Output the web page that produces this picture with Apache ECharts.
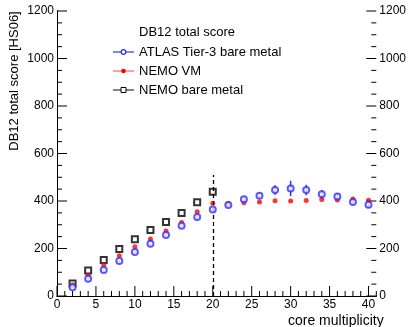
<!DOCTYPE html>
<html>
<head>
<meta charset="utf-8">
<script src="https://cdn.jsdelivr.net/npm/echarts@6/dist/echarts.min.js"></script>
<style>
  html, body { margin: 0; padding: 0; background: #fff; }
  #chart { width: 409px; height: 327px; }
</style>
</head>
<body>
<div id="chart"></div>
<script>
// Core counts on the horizontal axis
const cores = [2, 4, 6, 8, 10, 12, 14, 16, 18, 20, 22, 24, 26, 28, 30, 32, 34, 36, 38, 40];

// DB12 scores (HS06) per configuration
const atlasScore = [37, 73, 109, 147, 185, 220, 257, 296, 333, 364, 383, 407, 422, 446, 453, 446, 428, 419, 396, 384];
const atlasError = [3, 3, 4, 4, 4, 5, 5, 6, 6, 7, 6, 10, 13, 20, 32, 22, 18, 14, 12, 14];
const nemoVmScore = [46, 87, 131, 170, 207, 240, 274, 310, 355, 391, 390, 393, 396, 401, 400, 402, 406, 404, 408, 403];
const nemoBareScore = [53, 107, 152, 198, 239, 278, 312, 349, 395, 439, null, null, null, null, null, null, null, null, null, null];

const seriesNames = ['ATLAS Tier-3 bare metal', 'NEMO VM', 'NEMO bare metal'];
const legendTitle = 'DB12 total score';
const xTitle = 'core multiplicity';
const yTitle = 'DB12 total score [HS06]';

// Axis ranges and tick spacing
const X_MAX = 41, X_MAJOR = 5, X_MINOR = 1;
const Y_MAX = 1200, Y_MAJOR = 200, Y_MINOR = 50;

const BLUE = '#2f2fff';
const RED = '#ff0000';
const BLACK = '#000000';
const FONT = 'Liberation Sans, Arial, sans-serif';

const pairs = (ys) => cores.map((c, i) => [c, ys[i]]);

// Inward-pointing frame ticks: [x, y, side, length]; side 0 = bottom, 1 = left, 2 = right
const frameTicks = [];
for (let v = 0; v <= X_MAX; v += X_MINOR) {
  frameTicks.push([v, 0, 0, v % X_MAJOR === 0 ? 10 : 5]);
}
for (let v = 0; v <= Y_MAX; v += Y_MINOR) {
  const len = v % Y_MAJOR === 0 ? 10 : 5;
  frameTicks.push([0, v, 1, len]);
  frameTicks.push([X_MAX, v, 2, len]);
}

const chart = echarts.init(document.getElementById('chart'));

const axisLine = () => ({ show: true, lineStyle: { color: '#000', width: 1 } });
const tickLabel = () => ({ color: '#000', fontSize: 12, fontFamily: FONT, margin: 3, formatter: v => String(v) });

const option = {
  animation: false,
  grid: { left: 57, right: 31, top: 11, bottom: 31 },
  xAxis: [
    {
      type: 'value', min: 0, max: X_MAX, interval: X_MAJOR, position: 'bottom',
      axisLine: axisLine(), splitLine: { show: false },
      axisTick: { show: false }, minorTick: { show: false },
      axisLabel: Object.assign(tickLabel(), { showMaxLabel: false }),
    },
    {
      type: 'value', min: 0, max: X_MAX, position: 'top',
      axisLine: axisLine(), splitLine: { show: false },
      axisTick: { show: false }, axisLabel: { show: false },
    },
  ],
  yAxis: [
    {
      type: 'value', min: 0, max: Y_MAX, interval: Y_MAJOR, position: 'left',
      axisLine: axisLine(), splitLine: { show: false },
      axisTick: { show: false }, minorTick: { show: false },
      axisLabel: tickLabel(),
    },
    {
      type: 'value', min: 0, max: Y_MAX, interval: Y_MAJOR, position: 'right',
      axisLine: axisLine(), splitLine: { show: false },
      axisTick: { show: false }, minorTick: { show: false },
      axisLabel: tickLabel(),
    },
  ],
  series: [
    {
      // frame ticks, pointing into the plot
      type: 'custom',
      name: 'frame-ticks',
      silent: true,
      clip: false,
      data: frameTicks,
      renderItem: (params, api) => {
        const p = api.coord([api.value(0), api.value(1)]);
        const side = api.value(2);
        const len = api.value(3);
        let x2 = p[0], y2 = p[1];
        if (side === 0) y2 -= len;
        else if (side === 1) x2 += len;
        else x2 -= len;
        return {
          type: 'line',
          shape: { x1: p[0], y1: p[1], x2: x2, y2: y2 },
          style: { stroke: '#000', lineWidth: 1 },
        };
      },
      z: 1,
    },
    {
      // vertical error bars on the ATLAS points
      type: 'custom',
      name: 'atlas-err',
      silent: true,
      data: cores.map((c, i) => [c, atlasScore[i] - atlasError[i], atlasScore[i] + atlasError[i]]),
      renderItem: (params, api) => {
        const lo = api.coord([api.value(0), api.value(1)]);
        const hi = api.coord([api.value(0), api.value(2)]);
        return {
          type: 'line',
          shape: { x1: lo[0], y1: lo[1], x2: hi[0], y2: hi[1] },
          style: { stroke: BLUE, lineWidth: 1.5 },
        };
      },
      z: 2,
    },
    {
      name: seriesNames[2], type: 'scatter', data: pairs(nemoBareScore),
      symbol: 'emptyRect', symbolSize: 6,
      itemStyle: { color: BLACK, borderColor: BLACK, borderWidth: 1.2 },
      z: 3,
      markLine: {
        silent: true, symbol: 'none', label: { show: false },
        lineStyle: { color: '#000', type: [4, 3], width: 1.3 },
        data: [[{ coord: [20, 0] }, { coord: [20, 510] }]],
      },
    },
    {
      name: seriesNames[1], type: 'scatter', data: pairs(nemoVmScore),
      symbol: 'circle', symbolSize: 5,
      itemStyle: { color: RED },
      z: 4,
    },
    {
      name: seriesNames[0], type: 'scatter', data: pairs(atlasScore),
      symbol: 'emptyCircle', symbolSize: 6,
      itemStyle: { color: BLUE, borderColor: BLUE, borderWidth: 1.2 },
      z: 5,
    },
  ],
  graphic: [
    // axis titles
    { type: 'text', left: 288, top: 314,
      style: { text: xTitle, fill: '#000', font: '14px ' + FONT } },
    { type: 'text', x: 14, y: 81, rotation: Math.PI / 2,
      style: { text: yTitle, fill: '#000', font: '13px ' + FONT, align: 'center', verticalAlign: 'middle' } },
    // legend
    { type: 'text', x: 139, y: 32,
      style: { text: legendTitle, fill: '#000', font: '13px ' + FONT, verticalAlign: 'middle' } },
    { type: 'line', shape: { x1: 113, y1: 52, x2: 134, y2: 52 }, style: { stroke: BLUE, lineWidth: 1.2 } },
    { type: 'circle', shape: { cx: 123.5, cy: 52, r: 2.3 }, style: { fill: '#fff', stroke: BLUE, lineWidth: 1.3 } },
    { type: 'text', x: 139, y: 52,
      style: { text: seriesNames[0], fill: '#000', font: '13px ' + FONT, verticalAlign: 'middle' } },
    { type: 'line', shape: { x1: 113, y1: 71, x2: 134, y2: 71 }, style: { stroke: '#ff8080', lineWidth: 1.5 } },
    { type: 'circle', shape: { cx: 123.5, cy: 71, r: 2.3 }, style: { fill: RED } },
    { type: 'text', x: 139, y: 71,
      style: { text: seriesNames[1], fill: '#000', font: '13px ' + FONT, verticalAlign: 'middle' } },
    { type: 'line', shape: { x1: 113, y1: 90, x2: 134, y2: 90 }, style: { stroke: '#333', lineWidth: 1.2 } },
    { type: 'rect', shape: { x: 121, y: 87.5, width: 5, height: 5 }, style: { fill: '#fff', stroke: '#000', lineWidth: 1 } },
    { type: 'text', x: 139, y: 90,
      style: { text: seriesNames[2], fill: '#000', font: '13px ' + FONT, verticalAlign: 'middle' } },
  ],
};

chart.setOption(option);
</script>
</body>
</html>
